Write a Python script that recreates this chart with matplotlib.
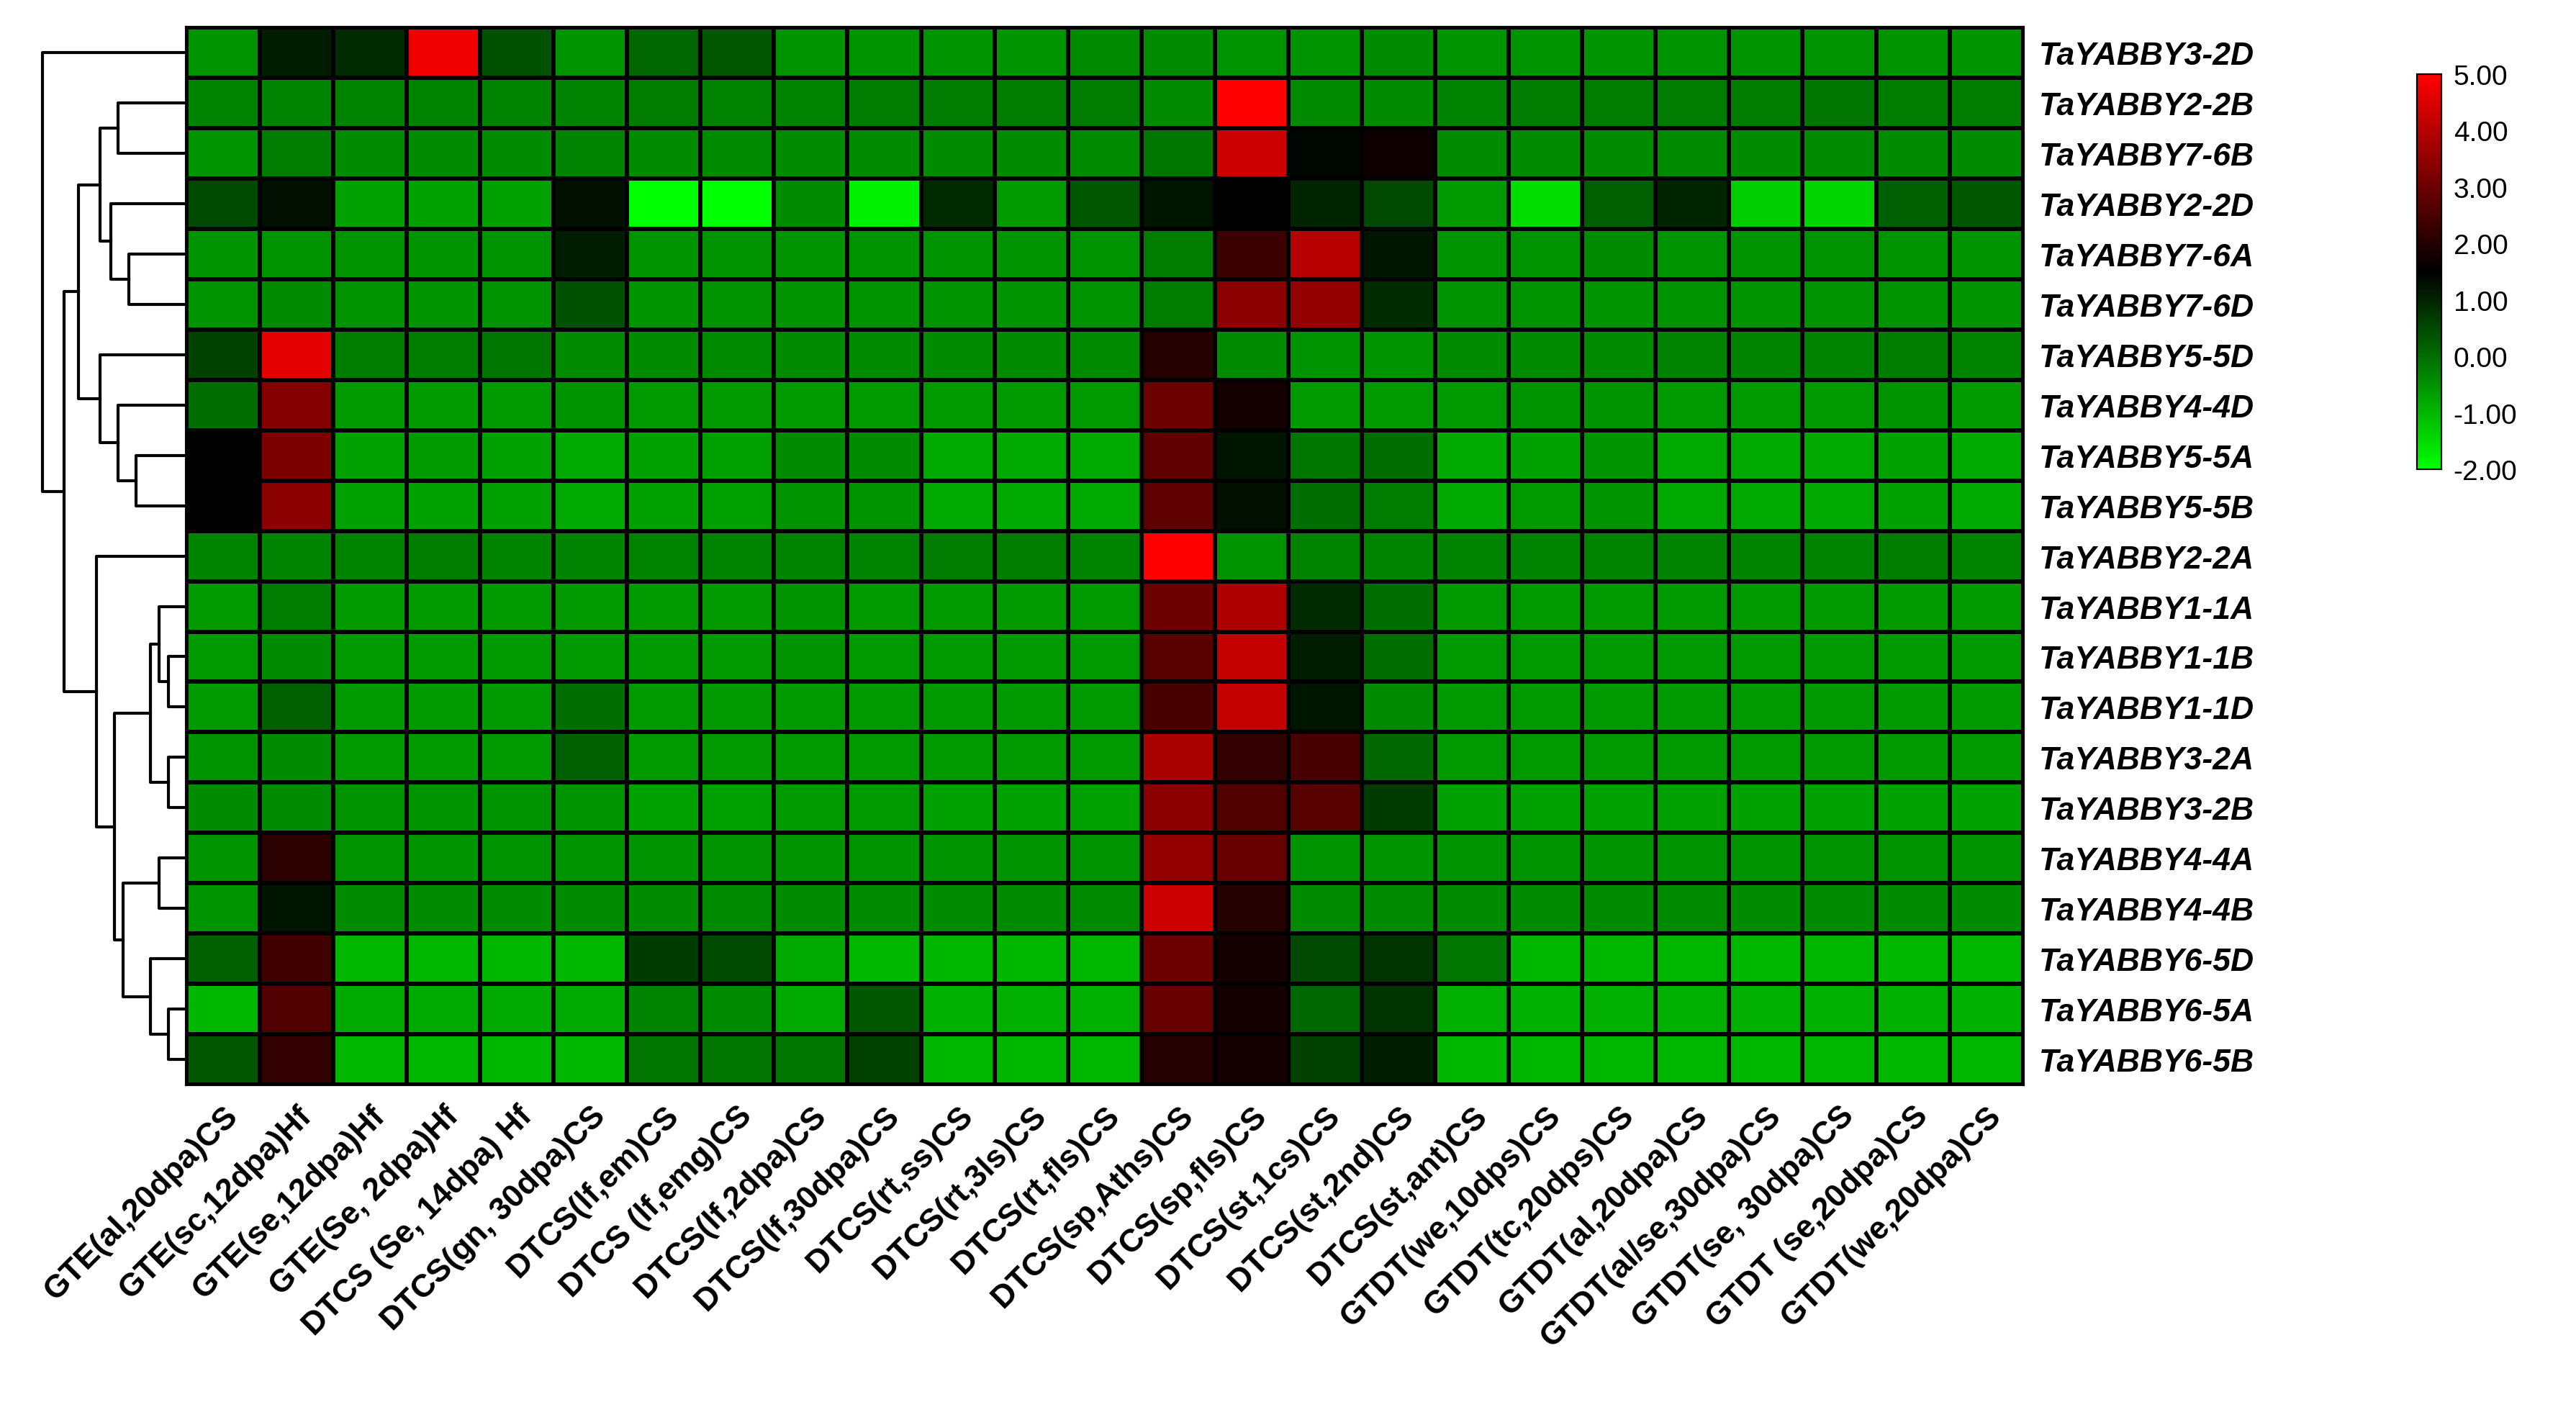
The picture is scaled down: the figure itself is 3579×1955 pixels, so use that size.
import numpy as np
import matplotlib
matplotlib.use("Agg")
import matplotlib.pyplot as plt
from matplotlib.colors import LinearSegmentedColormap

plt.rcParams['font.family'] = ['Liberation Sans', 'DejaVu Sans']

genes = ["TaYABBY3-2D","TaYABBY2-2B","TaYABBY7-6B","TaYABBY2-2D","TaYABBY7-6A","TaYABBY7-6D",
         "TaYABBY5-5D","TaYABBY4-4D","TaYABBY5-5A","TaYABBY5-5B","TaYABBY2-2A","TaYABBY1-1A",
         "TaYABBY1-1B","TaYABBY1-1D","TaYABBY3-2A","TaYABBY3-2B","TaYABBY4-4A","TaYABBY4-4B",
         "TaYABBY6-5D","TaYABBY6-5A","TaYABBY6-5B"]
samples = ["GTE(al,20dpa)CS","GTE(sc,12dpa)Hf","GTE(se,12dpa)Hf","GTE(Se, 2dpa)Hf","DTCS (Se, 14dpa) Hf",
           "DTCS(gn, 30dpa)CS","DTCS(lf,em)CS","DTCS (lf,emg)CS","DTCS(lf,2dpa)CS","DTCS(lf,30dpa)CS",
           "DTCS(rt,ss)CS","DTCS(rt,3ls)CS","DTCS(rt,fls)CS","DTCS(sp,Aths)CS","DTCS(sp,fls)CS",
           "DTCS(st,1cs)CS","DTCS(st,2nd)CS","DTCS(st,ant)CS","GTDT(we,10dps)CS","GTDT(tc,20dps)CS",
           "GTDT(al,20dpa)CS","GTDT(al/se,30dpa)CS","GTDT(se, 30dpa)CS","GTDT (se,20dpa)CS","GTDT(we,20dpa)CS"]

values = [
 [-0.5,1.1,0.9,4.8,0.4,-0.5,0.1,0.3,-0.5,-0.5,-0.5,-0.5,-0.4,-0.4,-0.5,-0.5,-0.4,-0.5,-0.5,-0.5,-0.5,-0.5,-0.5,-0.5,-0.5],
 [-0.3,-0.3,-0.3,-0.3,-0.3,-0.3,-0.2,-0.3,-0.3,-0.2,-0.2,-0.2,-0.2,-0.4,5.0,-0.4,-0.4,-0.3,-0.2,-0.2,-0.2,-0.2,-0.1,-0.2,-0.2],
 [-0.5,-0.2,-0.4,-0.4,-0.4,-0.3,-0.4,-0.4,-0.4,-0.4,-0.4,-0.4,-0.4,-0.1,4.3,1.4,1.7,-0.4,-0.4,-0.4,-0.4,-0.4,-0.4,-0.4,-0.4],
 [0.5,1.3,-0.7,-0.7,-0.7,1.3,-2.0,-2.0,-0.4,-1.8,0.9,-0.6,0.3,1.2,1.5,1.0,0.5,-0.6,-1.5,0.2,1.0,-1.3,-1.4,0.2,0.3],
 [-0.5,-0.5,-0.5,-0.5,-0.5,1.1,-0.5,-0.5,-0.5,-0.5,-0.5,-0.5,-0.5,-0.2,2.3,4.0,1.2,-0.5,-0.5,-0.4,-0.5,-0.5,-0.5,-0.5,-0.5],
 [-0.5,-0.4,-0.5,-0.5,-0.5,0.4,-0.5,-0.5,-0.5,-0.5,-0.5,-0.5,-0.5,-0.2,3.4,3.5,0.9,-0.5,-0.5,-0.5,-0.5,-0.5,-0.5,-0.5,-0.5],
 [0.6,4.6,-0.2,-0.2,-0.1,-0.4,-0.4,-0.4,-0.4,-0.4,-0.4,-0.4,-0.4,2.0,-0.4,-0.5,-0.5,-0.4,-0.4,-0.4,-0.3,-0.3,-0.3,-0.2,-0.3],
 [0.0,3.3,-0.6,-0.6,-0.6,-0.5,-0.6,-0.6,-0.6,-0.6,-0.6,-0.6,-0.6,3.0,1.8,-0.6,-0.6,-0.6,-0.5,-0.5,-0.6,-0.6,-0.6,-0.5,-0.6],
 [1.5,3.2,-0.7,-0.6,-0.7,-0.8,-0.7,-0.7,-0.4,-0.4,-0.8,-0.8,-0.8,2.8,1.2,-0.1,0.0,-0.8,-0.7,-0.5,-0.8,-0.8,-0.8,-0.7,-0.8],
 [1.5,3.4,-0.7,-0.7,-0.7,-0.8,-0.7,-0.7,-0.5,-0.5,-0.8,-0.8,-0.8,2.8,1.3,0.0,-0.2,-0.8,-0.6,-0.5,-0.8,-0.8,-0.8,-0.7,-0.8],
 [-0.3,-0.3,-0.3,-0.2,-0.3,-0.3,-0.3,-0.3,-0.3,-0.3,-0.2,-0.2,-0.3,5.0,-0.5,-0.3,-0.3,-0.3,-0.3,-0.3,-0.3,-0.3,-0.3,-0.2,-0.3],
 [-0.6,-0.2,-0.6,-0.6,-0.6,-0.6,-0.6,-0.6,-0.5,-0.6,-0.6,-0.6,-0.6,3.0,3.9,0.9,0.0,-0.6,-0.6,-0.6,-0.6,-0.6,-0.6,-0.6,-0.6],
 [-0.6,-0.4,-0.6,-0.6,-0.6,-0.6,-0.6,-0.6,-0.5,-0.6,-0.6,-0.6,-0.6,2.7,4.2,1.1,0.0,-0.6,-0.6,-0.6,-0.6,-0.6,-0.6,-0.6,-0.6],
 [-0.6,0.2,-0.6,-0.6,-0.6,0.0,-0.6,-0.6,-0.6,-0.6,-0.6,-0.6,-0.6,2.5,4.2,1.2,-0.4,-0.6,-0.6,-0.6,-0.6,-0.6,-0.6,-0.6,-0.6],
 [-0.5,-0.4,-0.6,-0.6,-0.6,0.2,-0.6,-0.6,-0.6,-0.6,-0.6,-0.6,-0.6,3.8,2.2,2.5,0.1,-0.6,-0.6,-0.6,-0.6,-0.6,-0.6,-0.6,-0.6],
 [-0.4,-0.4,-0.5,-0.5,-0.5,-0.5,-0.7,-0.7,-0.6,-0.6,-0.7,-0.7,-0.7,3.4,2.6,2.7,0.7,-0.7,-0.7,-0.7,-0.7,-0.7,-0.7,-0.7,-0.7],
 [-0.5,2.1,-0.5,-0.5,-0.5,-0.5,-0.5,-0.5,-0.5,-0.5,-0.5,-0.5,-0.5,3.5,2.9,-0.5,-0.5,-0.5,-0.5,-0.5,-0.5,-0.5,-0.5,-0.5,-0.5],
 [-0.5,1.2,-0.4,-0.4,-0.4,-0.4,-0.4,-0.4,-0.4,-0.4,-0.4,-0.4,-0.4,4.3,2.0,-0.4,-0.4,-0.4,-0.4,-0.4,-0.4,-0.4,-0.4,-0.4,-0.4],
 [0.2,2.4,-1.0,-1.0,-1.0,-1.0,0.7,0.5,-0.8,-1.0,-1.0,-1.0,-1.0,3.0,1.8,0.5,0.8,-0.1,-1.0,-1.0,-1.0,-1.0,-1.0,-1.0,-1.0],
 [-1.0,2.6,-0.8,-0.8,-0.8,-0.8,-0.3,-0.4,-0.8,0.3,-0.9,-0.9,-0.9,2.9,1.8,0.1,0.8,-0.9,-0.9,-0.9,-0.9,-0.9,-0.9,-0.9,-0.9],
 [0.3,2.2,-1.0,-1.0,-1.0,-1.0,-0.1,-0.1,-0.1,0.6,-1.0,-1.0,-1.0,2.0,1.8,0.6,1.1,-1.0,-1.0,-1.0,-1.0,-1.0,-1.0,-1.0,-1.0],
]

# dendrogram: nested tuples (left, right, height) with leaf row indices
tree = (0, ((( (1, 2, 0.38), (3, (4, 5, 0.32), 0.42), 0.48), (6, (7, (8, 9, 0.28), 0.38), 0.48), 0.6),
         (10, (((11, (12, 13, 0.1), 0.15), (14, 15, 0.1), 0.2),
               ((16, 17, 0.15), (18, (19, 20, 0.1), 0.2), 0.35), 0.4), 0.5), 0.68), 0.8)

data = np.array(values)
cmap = LinearSegmentedColormap.from_list("gbr", [(0, (0, 1, 0)), (3.5/7, (0, 0, 0)), (1, (1, 0, 0))])

fig = plt.figure(figsize=(17.9, 9.78), dpi=200)
ax = fig.add_axes([0.0723, 0.229, 0.7128, 0.751])
nr, nc = data.shape
ax.pcolormesh(np.arange(nc + 1), np.arange(nr + 1), data, cmap=cmap, vmin=-2, vmax=5,
              edgecolors="black", linewidth=1.6)
ax.set_xlim(0, nc); ax.set_ylim(nr, 0)
ax.set_yticks(np.arange(nr) + 0.5)
ax.set_yticklabels(genes, fontsize=16, fontweight="bold", fontstyle="italic")
ax.yaxis.tick_right()
ax.set_xticks(np.arange(nc) + 0.5)
ax.set_xticklabels(samples, rotation=45, ha="right", rotation_mode="anchor", fontsize=16, fontweight="bold")
ax.tick_params(length=0, pad=8)
for s in ax.spines.values():
    s.set_linewidth(1.5)

# dendrogram
dax = fig.add_axes([0.015, 0.229, 0.0573, 0.751])
def draw(node):
    if isinstance(node, int):
        return node + 0.5, 0.0
    l, r, h = node
    yl, hl = draw(l)
    yr, hr = draw(r)
    dax.plot([hl, h, h, hr], [yl, yl, yr, yr], color="black", lw=1.5)
    return (yl + yr) / 2, h
draw(tree)
dax.set_ylim(nr, 0); dax.set_xlim(0.82, 0)
dax.axis("off")

cax = fig.add_axes([0.938, 0.666, 0.0095, 0.281])
cb = fig.colorbar(plt.cm.ScalarMappable(norm=plt.Normalize(-2, 5), cmap=cmap), cax=cax)
cb.set_ticks(range(-2, 6))
cb.set_ticklabels([f"{v:.2f}" for v in range(-2, 6)])
cb.ax.tick_params(labelsize=14, length=0, pad=6)
cb.outline.set_linewidth(0.8)

fig.savefig("out.png", dpi=200, facecolor="white")
